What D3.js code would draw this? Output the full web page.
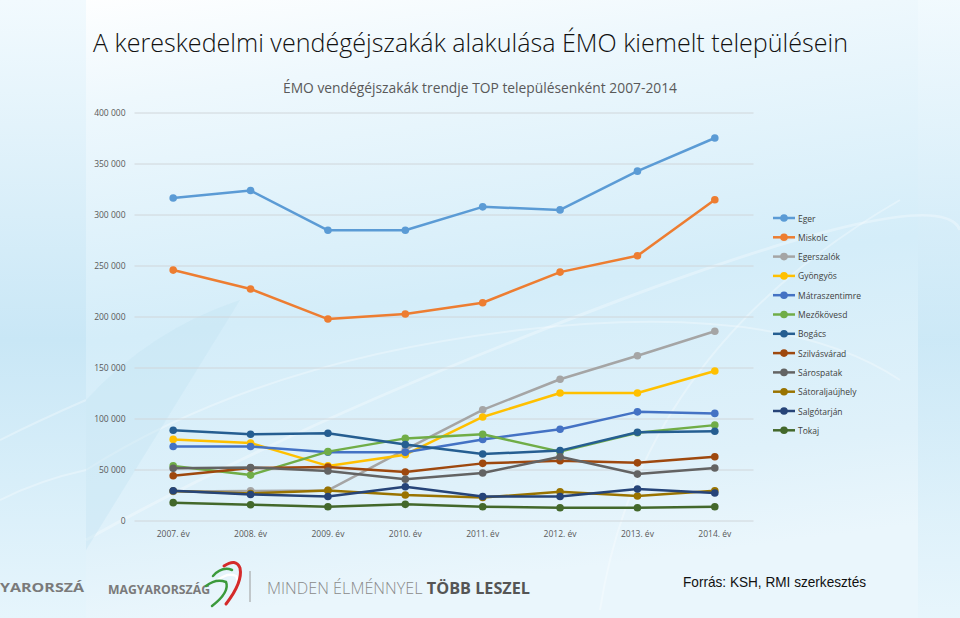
<!DOCTYPE html>
<html><head><meta charset="utf-8">
<script src="https://cdn.jsdelivr.net/npm/d3@7"></script>
<style>html,body{margin:0;padding:0;background:#fff;}svg{display:block;}</style>
</head><body>
<svg id="chart" width="960" height="618"></svg>
<script>
const years = ["2007. év","2008. év","2009. év","2010. év","2011. év","2012. év","2013. év","2014. év"];
const seriesNames = ["Eger","Miskolc","Egerszalók","Gyöngyös","Mátraszentimre","Mezőkövesd","Bogács","Szilvásvárad","Sárospatak","Sátoraljaújhely","Salgótarján","Tokaj"];
const eger = [316700,324000,285000,285000,308000,305000,343000,375500];
const miskolc = [246000,227500,198000,203000,214000,244000,260000,315000];
const egerszalok = [29000,29500,30000,70000,109000,139000,162000,186000];
const gyongyos = [80000,76500,54000,65000,102000,125500,125500,147000];
const matraszentimre = [73000,73000,67500,67500,80000,90000,107000,105500];
const mezokovesd = [54000,45000,68000,81000,85000,68000,86500,94000];
const bogacs = [89000,85000,86000,75000,65700,69000,87000,88000];
const szilvasvarad = [44400,52000,53000,48000,56500,59000,57000,63000];
const sarospatak = [51600,52500,49000,41000,47000,63000,46000,52000];
const satoraljaujhely = [29400,27000,30000,25500,23000,28700,24500,29700];
const salgotarjan = [29700,26000,24000,33600,24000,24000,31400,27500];
const tokaj = [18000,16000,14000,16300,14000,13000,13000,14000];
const yTicks = [0,50000,100000,150000,200000,250000,300000,350000,400000];
const colors = ["#5B9BD5","#ED7D31","#A5A5A5","#FFC000","#4472C4","#70AD47","#255E91","#9E480E","#636363","#997300","#264478","#43682B"];

const allValues = [eger,miskolc,egerszalok,gyongyos,matraszentimre,mezokovesd,bogacs,szilvasvarad,sarospatak,satoraljaujhely,salgotarjan,tokaj];
const series = seriesNames.map((n,i)=>({name:n,values:allValues[i],color:colors[i]}));

const svg = d3.select("#chart");
const defs = svg.append("defs");
const g1 = defs.append("linearGradient").attr("id","bg").attr("x1",0).attr("y1",0).attr("x2",0.2).attr("y2",1);
g1.append("stop").attr("offset","0%").attr("stop-color","#ffffff");
g1.append("stop").attr("offset","18%").attr("stop-color","#eef8fd");
g1.append("stop").attr("offset","55%").attr("stop-color","#d4edf9");
g1.append("stop").attr("offset","85%").attr("stop-color","#dff1fa");
g1.append("stop").attr("offset","100%").attr("stop-color","#eaf6fc");
const g2 = defs.append("linearGradient").attr("id","bgside").attr("x1",0).attr("y1",0).attr("x2",0).attr("y2",1);
g2.append("stop").attr("offset","0%").attr("stop-color","#f2fafe");
g2.append("stop").attr("offset","55%").attr("stop-color","#c9e7f6");
g2.append("stop").attr("offset","100%").attr("stop-color","#e6f5fc");

svg.append("rect").attr("width",960).attr("height",618).attr("fill","url(#bg)");
svg.append("rect").attr("x",0).attr("y",0).attr("width",86).attr("height",618).attr("fill","url(#bgside)");
svg.append("rect").attr("x",918).attr("y",0).attr("width",42).attr("height",618).attr("fill","url(#bgside)").attr("opacity",0.8);
// decorative swooshes
const deco = svg.append("g").attr("fill","none").attr("stroke","#ffffff").attr("stroke-opacity",0.3);
deco.append("path").attr("d","M86,540 Q300,420 620,300 T960,230").attr("stroke-width",3);
deco.append("path").attr("d","M86,470 Q260,360 520,330 T900,380").attr("stroke-width",2);
deco.append("path").attr("d","M600,610 Q640,350 900,200").attr("stroke-width",2);
deco.append("path").attr("d","M0,500 Q40,480 86,470").attr("stroke-width",2);
deco.append("path").attr("d","M0,440 Q40,420 86,400").attr("stroke-width",2);
svg.append("path").attr("d","M86,550 L86,400 Q150,330 240,300 L86,550 Z").attr("fill","#c3e3f3").attr("opacity",0.4);

// Title
svg.append("text").attr("x",93).attr("y",52).attr("font-family","'Open Sans','Noto Sans',sans-serif").attr("font-weight",300)
  .attr("font-size",26).attr("fill","#111").attr("textLength",755).attr("lengthAdjust","spacingAndGlyphs")
  .text("A kereskedelmi vendégéjszakák alakulása ÉMO kiemelt településein");
svg.append("text").attr("x",480).attr("y",93).attr("text-anchor","middle").attr("font-family","'Open Sans','Noto Sans',sans-serif")
  .attr("font-size",14).attr("fill","#595959").attr("textLength",394).attr("lengthAdjust","spacingAndGlyphs")
  .text("ÉMO vendégéjszakák trendje TOP településenként  2007-2014");

const margin = {left:134.5, right:753.5, top:113, bottom:521};
const x = d3.scaleBand().domain(years).range([margin.left, margin.right]);
const y = d3.scaleLinear().domain([0,400000]).range([margin.bottom, margin.top]);
const fmt = v => d3.format(",")(v).replace(/,/g," ");

// grid
svg.append("g").selectAll("line").data(yTicks).join("line")
  .attr("x1",margin.left).attr("x2",margin.right).attr("y1",d=>y(d)).attr("y2",d=>y(d))
  .attr("stroke","#d0d6da").attr("stroke-width",1);

// y axis labels
const yAxis = d3.axisLeft(y).tickValues(yTicks).tickFormat(fmt).tickSize(0).tickPadding(9);
const ya = svg.append("g").attr("transform",`translate(${margin.left},0)`).call(yAxis);
ya.select(".domain").remove();
ya.selectAll("text").attr("font-family","'Open Sans','Noto Sans',sans-serif").attr("font-size",8.5).attr("fill","#595959");

const xAxis = d3.axisBottom(x).tickSize(0).tickPadding(10);
const xa = svg.append("g").attr("transform",`translate(0,${margin.bottom})`).call(xAxis);
xa.select(".domain").remove();
xa.selectAll("text").attr("font-family","'Open Sans','Noto Sans',sans-serif").attr("font-size",8.5).attr("fill","#595959");

const cx = d => x(d) + x.bandwidth()/2;
const line = d3.line().x((d,i)=>cx(years[i])).y(d=>y(d));
const sg = svg.append("g").selectAll("g").data(series).join("g");
sg.append("path").attr("d",d=>line(d.values)).attr("fill","none").attr("stroke",d=>d.color).attr("stroke-width",2.5).attr("stroke-linejoin","round");
sg.selectAll("circle").data(d=>d.values.map(v=>({v,c:d.color}))).join("circle")
  .attr("cx",(d,i)=>cx(years[i])).attr("cy",d=>y(d.v)).attr("r",3.8).attr("fill",d=>d.c);

// legend
const lg = svg.append("g").selectAll("g").data(series).join("g")
  .attr("transform",(d,i)=>`translate(773,${218 + i*19.3})`);
lg.append("line").attr("x1",0).attr("x2",22).attr("stroke",d=>d.color).attr("stroke-width",2.5);
lg.append("circle").attr("cx",11).attr("r",3.8).attr("fill",d=>d.color);
lg.append("text").attr("x",25).attr("y",3.5).attr("font-family","'Open Sans','Noto Sans',sans-serif").attr("font-size",8.5).attr("fill","#404040").text(d=>d.name);

// footer
const ff = "'Open Sans','Noto Sans',sans-serif";
svg.append("text").attr("x",0).attr("y",592).attr("font-family",ff).attr("font-weight","bold").attr("font-size",12).attr("fill","#7a7a7a").attr("textLength",84).attr("lengthAdjust","spacingAndGlyphs").text("YARORSZÁ");
svg.append("text").attr("x",108).attr("y",594).attr("font-family",ff).attr("font-weight","bold").attr("font-size",11.5).attr("fill","#7a7a7a").attr("textLength",102).attr("lengthAdjust","spacingAndGlyphs").text("MAGYARORSZÁG");
// heart swirl logo
const lgo = svg.append("g").attr("fill","none").attr("stroke-linecap","round");
lgo.append("path").attr("d","M213,576 Q222,566 232,570").attr("stroke","#3b9a3b").attr("stroke-width",2.5);
lgo.append("path").attr("d","M218,580 Q228,572 236,576 Q241,583 232,594").attr("stroke","#ffffff").attr("stroke-width",2.5);
lgo.append("path").attr("d","M224,566 Q236,558 240,568 Q243,582 226,604").attr("stroke","#d42a2a").attr("stroke-width",3);
lgo.append("path").attr("d","M206,586 Q216,578 226,582 Q230,592 212,606").attr("stroke","#3b9a3b").attr("stroke-width",2.5);
svg.append("line").attr("x1",250).attr("x2",250).attr("y1",571).attr("y2",602).attr("stroke","#9a9a9a").attr("stroke-width",1);
const t2 = svg.append("text").attr("x",267).attr("y",594).attr("font-family",ff).attr("font-size",15.5).attr("fill","#8a8a8a").attr("textLength",263).attr("lengthAdjust","spacingAndGlyphs");
t2.append("tspan").attr("font-weight",300).text("MINDEN ÉLMÉNNYEL ");
t2.append("tspan").attr("font-weight","bold").attr("fill","#555").text("TÖBB LESZEL");
svg.append("text").attr("x",683).attr("y",587).attr("font-family","'Liberation Sans','Open Sans',sans-serif").attr("font-size",15).attr("fill","#111").attr("textLength",183).attr("lengthAdjust","spacingAndGlyphs").text("Forrás: KSH, RMI szerkesztés");
</script>
</body></html>
